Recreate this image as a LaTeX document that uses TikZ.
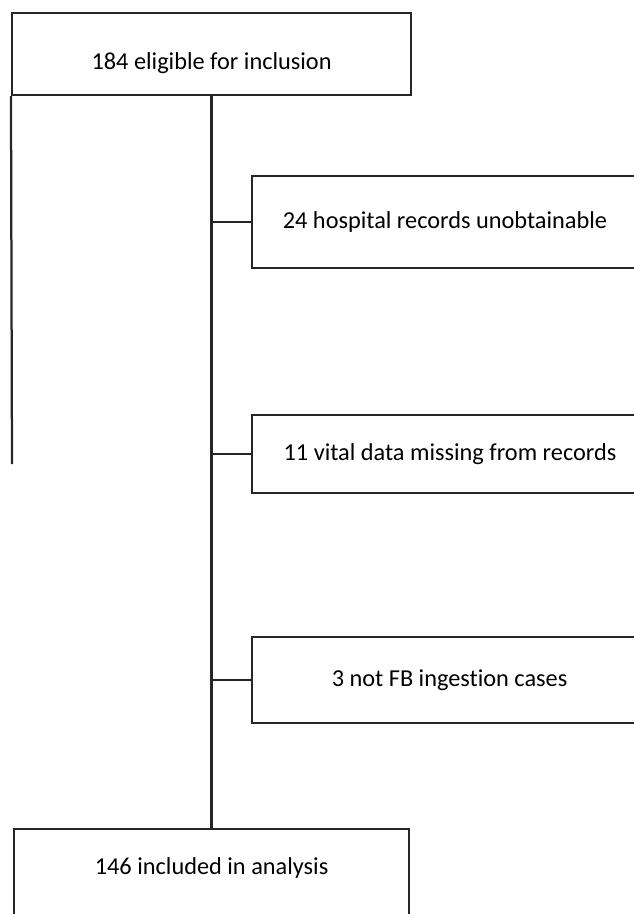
\documentclass[tikz,border=0pt]{standalone}
\usepackage{fontspec}
\setmainfont{Carlito}[Ligatures=NoCommon]
\usepackage{tikz}

\begin{document}
\begin{tikzpicture}[
    stagebox/.style={draw=black!85, line width=1.6pt, fill=white, inner sep=0pt,
        font=\fontsize{17.3}{20}\selectfont},
    link/.style={draw=black!85, line width=1.6pt}
]

% Page
\clip (0,0) rectangle (15.85,-22.85);
\fill[white] (0,0) rectangle (15.85,-22.85);

% Boxes
\node[stagebox, minimum width=9.975cm, minimum height=2.05cm,
      label={[yshift=-0.22cm, font=\fontsize{17.3}{20}\selectfont]center:184 eligible for inclusion}]
      (eligible) at (5.29,-1.35) {};
\node[stagebox, minimum width=9.65cm, minimum height=2.3cm] (records) at (11.125,-5.55)
      {24 hospital records unobtainable};
\node[stagebox, minimum width=9.9cm, minimum height=1.95cm] (missing) at (11.25,-11.35)
      {11 vital data missing from records};
\node[stagebox, minimum width=9.875cm, minimum height=2.15cm] (notfb) at (11.24,-17.0)
      {3 not FB ingestion cases};
\node[stagebox, minimum width=9.875cm, minimum height=2.5cm,
      label={[yshift=0.27cm, font=\fontsize{17.3}{20}\selectfont]center:146 included in analysis}]
      (included) at (5.29,-21.975) {};

% Connectors
\coordinate (leftend) at (0.3,-11.6);
\draw[link] (eligible.south west) -- (leftend);
\draw[link] (eligible.south) -- (included.north);
\draw[link] (eligible.south |- records.west) -- (records.west);
\draw[link] (eligible.south |- missing.west) -- (missing.west);
\draw[link] (eligible.south |- notfb.west) -- (notfb.west);

\end{tikzpicture}
\end{document}
